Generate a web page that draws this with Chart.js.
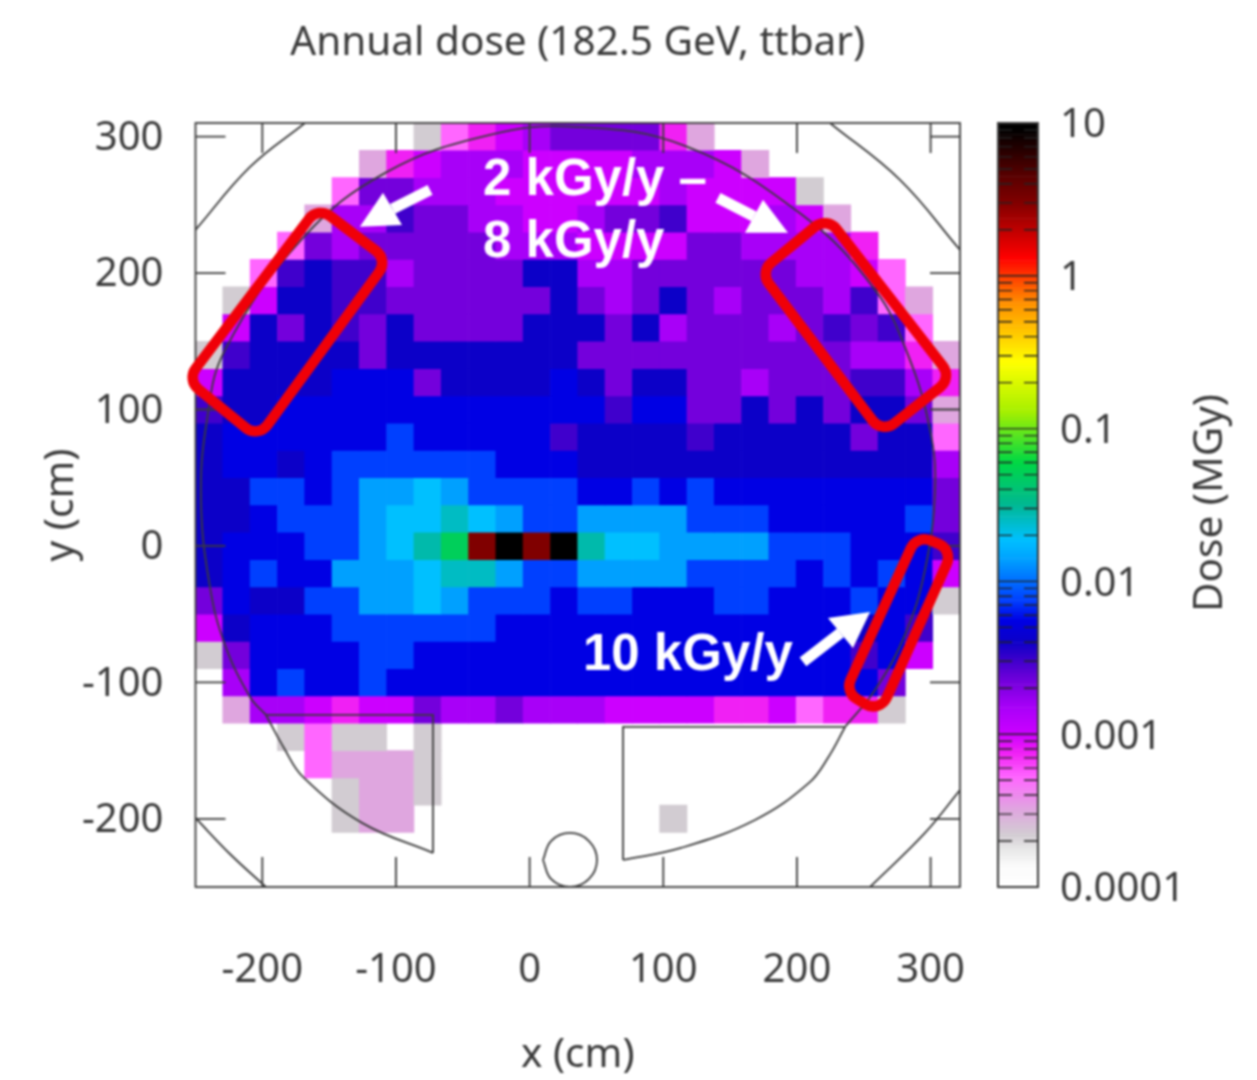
<!DOCTYPE html>
<html><head><meta charset="utf-8">
<script src="https://cdn.jsdelivr.net/npm/chart.js@4"></script>
<style>
html,body{margin:0;padding:0;background:#fff;width:1257px;height:1080px;overflow:hidden}
canvas{position:absolute;top:0;filter:blur(1px)}
#main{left:0}#bar{left:990px}
</style></head><body>
<canvas id="main" width="1257" height="1080"></canvas>
<canvas id="bar" width="267" height="1080"></canvas>
<script>
// dose per 20 cm cell, in units of 1e-4 MGy; row 0 = top of plot, column 0 = left of plot
const doseUnit = 1e-4;
const doseRows = [
[1,1,1,1,1,1,1,1,2.2,5.2,7.5,10,15,22,22,22,22,7.5,3.2,1,1,1,1,1,1,1,1,1],
[1,1,1,1,1,1,3.2,7.5,10,15,15,15,10,10,10,10,15,15,15,10,3.2,1,1,1,1,1,1,1],
[1,1,1,1,1,5.2,22,22,15,15,15,10,10,10,10,10,10,15,10,10,10,10,2.2,1,1,1,1,1],
[1,1,1,1,3.2,15,15,30,22,22,15,15,10,10,15,22,22,30,10,10,10,15,10,3.2,1,1,1,1],
[1,1,1,5.2,22,15,22,22,22,22,22,15,15,15,10,10,10,10,22,22,15,15,15,15,7.5,1,1,1],
[1,1,5.2,30,40,30,30,15,22,22,22,22,40,40,15,15,22,22,22,22,22,22,15,15,10,5.2,1,1],
[1,2.2,10,40,40,30,30,22,22,22,22,22,22,40,22,15,22,40,22,15,22,22,22,15,30,5.2,3.2,1],
[1,10,40,22,40,30,22,40,22,22,22,22,40,40,40,22,40,15,22,22,22,15,22,30,22,30,5.2,1],
[2.2,30,40,40,40,40,22,40,40,40,40,40,40,40,22,22,22,22,22,22,22,22,22,22,15,15,7.5,3.2],
[10,40,40,40,40,55,55,55,22,40,40,40,40,55,40,22,40,40,22,22,15,22,22,22,30,30,15,7.5],
[30,40,40,55,55,55,55,55,55,55,55,55,55,55,55,30,55,55,22,22,40,22,40,22,40,40,22,3.2],
[40,55,55,55,55,55,55,75,55,55,55,55,55,30,40,40,40,40,30,40,40,40,40,40,22,40,40,5.2],
[40,55,55,40,55,75,75,75,75,75,75,55,55,55,40,40,40,40,40,40,40,40,40,40,40,40,40,15],
[40,40,75,75,55,75,138,138,186,138,75,75,75,75,55,55,75,55,75,55,55,55,55,55,55,55,55,22],
[40,40,55,75,75,75,138,186,186,250,186,138,75,75,138,138,138,138,75,75,75,55,55,55,55,55,75,22],
[40,55,55,55,75,75,138,186,280,500,30000,90000,30000,90000,280,186,186,138,138,138,138,75,75,75,55,55,55,30],
[40,55,75,55,55,138,138,138,186,250,250,138,75,75,138,138,138,138,75,75,75,75,55,75,55,75,55,10],
[22,55,40,40,75,75,138,138,186,138,75,75,75,55,75,75,55,55,55,75,75,55,55,55,75,55,55,2.2],
[10,40,55,55,55,75,75,75,75,75,75,55,55,55,55,55,55,55,55,55,55,55,55,55,40,55,30,1],
[2.2,22,55,55,55,55,75,75,55,55,55,55,55,55,55,55,55,55,55,55,55,55,55,55,30,55,10,1],
[1,15,55,75,55,55,75,55,55,55,55,55,55,55,55,55,55,55,55,55,55,55,55,55,55,22,1,1],
[1,3.2,15,15,10,7.5,10,10,22,15,15,22,15,15,15,10,10,10,10,7.5,7.5,10,5.2,7.5,7.5,2.2,1,1],
[1,1,1,2.2,5.2,2.2,2.2,1,2.2,1,1,1,1,1,1,1,1,1,1,1,1,1,1,1,1,1,1,1],
[1,1,1,1,5.2,3.2,3.2,3.2,2.2,1,1,1,1,1,1,1,1,1,1,1,1,1,1,1,1,1,1,1],
[1,1,1,1,1,2.2,3.2,3.2,2.2,1,1,1,1,1,1,1,1,1,1,1,1,1,1,1,1,1,1,1],
[1,1,1,1,1,2.2,3.2,3.2,1,1,1,1,1,1,1,1,1,2.2,1,1,1,1,1,1,1,1,1,1],
[1,1,1,1,1,1,1,1,1,1,1,1,1,1,1,1,1,1,1,1,1,1,1,1,1,1,1,1],
[1,1,1,1,1,1,1,1,1,1,1,1,1,1,1,1,1,1,1,1,1,1,1,1,1,1,1,1]
];
const xTickValues = [-200,-100,0,100,200,300];
const yTickValues = [-200,-100,0,100,200,300];
const doseTickValues = [10,1,0.1,0.01,0.001,0.0001];
const yTopEdge = 310, cellSize = 20;

// detector outlines, in cm
const innerArc = [[-197.3,-123.9],[-209.2,-110.7],[-227.9,-72.6],[-239.2,-30],[-245.9,33.7],[-241.4,92.4],[-227.9,143.7],[-169.6,225.8],[-106.7,274.2],[-29.7,301.3],[33.9,307.2],[116.2,293.2],[203.8,242.7],[258.4,187.7],[283.1,140],[299.6,85],[303.3,41],[295.8,-17.6],[280.8,-65.2],[258.4,-105.6],[236,-132.7]];
const leftSectorArc = [[-197.3,-123.9],[-183.8,-148.1],[-169.6,-169.3],[-125.4,-203],[-72.3,-225]];
const leftSectorEdge = [[-197.3,-123.9],[-72.3,-123.9],[-72.3,-225]];
const rightSectorArc = [[69.9,-230.2],[113.2,-221.4],[168.6,-200.9],[209,-173.7],[223.6,-154.7],[236,-132.7]];
const rightSectorEdge = [[69.9,-230.2],[69.9,-132.7],[236,-132.7]];
const smallCircle = [[10,-230.2],[16,-216.3],[30.2,-210.4],[44.4,-216.3],[50.4,-230.2],[44.4,-244.1],[30.2,-250],[16,-244.1],[10,-230.2]];
const outerTL = [[-168.1,310],[-209.2,277.8],[-250,231.7]];
const outerTR = [[224.7,310],[277.1,268.3],[322,217]];
const outerBL = [[-250,-199.4],[-224.2,-225.8],[-197.3,-250]];
const outerBR = [[254.7,-250],[295.8,-210.4],[322,-178.9]];
const outlines = [innerArc,leftSectorArc,leftSectorEdge,rightSectorArc,rightSectorEdge,smallCircle,outerTL,outerTR,outerBL,outerBR];
const curved = [innerArc,leftSectorArc,rightSectorArc,smallCircle,outerTL,outerTR,outerBL,outerBR];

// annotations, in cm
const redBoxes = [
 [[-158.3,248.5],[-106,209.7],[-203.2,79.2],[-256.4,121.7]],
 [[222.5,241.2],[316,123.2],[263.6,82.8],[172.4,200.9]],
 [[289.8,8.1],[316.8,-2.9],[262.1,-122.4],[236,-107]]
];
const arrows = [
 {tail:[-74.5,261],tip:[-127,233.9],h1:[-109.7,258.8],h2:[-95.5,235.3]},
 {tail:[140.9,255.1],tip:[193.3,229.5],h1:[174.6,253.7],h2:[161.1,229.5]},
 {tail:[204.5,-85],tip:[254.7,-48.4],h1:[223.2,-52.8],h2:[241.9,-74.8]}
];
const notes = [
 {text:'2 kGy/y –',at:[-34.9,257.3]},
 {text:'8 kGy/y',at:[-34.9,211.9]},
 {text:'10 kGy/y',at:[39.9,-90.9]}
];

// colour palette: [dose in 1e-4 MGy, colour]
const palette = [
 [1,'#ffffff'],[1.35,'#fbfbfb'],[1.75,'#e8e8e8'],[2.2,'#d2ccd2'],[3.2,'#dfa6df'],[5.2,'#ff66ff'],[7.5,'#f020f4'],
 [10,'#cc00ff'],[15,'#a800f8'],[22,'#7400dc'],[30,'#4000cc'],[40,'#0c00c8'],[55,'#0000e4'],[75,'#0040ff'],
 [138,'#00a0ff'],[186,'#00c0ff'],[320,'#00b890'],[600,'#00d844'],[1300,'#a8f000'],[2700,'#ffff00'],
 [6600,'#ff9000'],[13000,'#ff0000'],[30000,'#800000'],[45000,'#580000'],[90000,'#000000'],[100000,'#000000']
];
function hex(c){return [1,3,5].map(i=>parseInt(c.substr(i,2),16));}
function colourOf(v){
 if(v<=palette[0][0]) return palette[0][1];
 for(let i=1;i<palette.length;i++){
  if(v<=palette[i][0]){
   const t=(Math.log(v)-Math.log(palette[i-1][0]))/(Math.log(palette[i][0])-Math.log(palette[i-1][0]));
   const a=hex(palette[i-1][1]),b=hex(palette[i][1]);
   return 'rgb('+a.map((u,k)=>Math.round(u+(b[k]-u)*t)).join(',')+')';
  }
 }
 return palette[palette.length-1][1];
}
const INK='#3a3a3a', FONT='"Noto Sans"';

const columns = doseRows[0].map((_,c)=>String(c));
const cellSets = doseRows.map((row,r)=>({
  type:'bar', order:5, xAxisID:'x', yAxisID:'y', grouped:false,
  barPercentage:1, categoryPercentage:1, borderWidth:0,
  data: row.map(v=> v>1 ? [yTopEdge-(r+1)*cellSize, yTopEdge-r*cellSize] : null),
  backgroundColor: row.map(colourOf)
}));
const lineSets = outlines.map(o=>({
  type:'scatter', order:1, xAxisID:'xv', yAxisID:'y', showLine:true, pointRadius:0,
  borderColor:INK, borderWidth:1.8, tension: curved.includes(o)?0.4:0,
  data:o.map(p=>({x:p[0],y:p[1]}))
}));

const frame = {
 id:'frame',
 afterDatasetsDraw(ch){
  const c=ch.ctx,a=ch.chartArea,X=ch.scales.xv,Y=ch.scales.y,T=30;
  const px=p=>[X.getPixelForValue(p[0]),Y.getPixelForValue(p[1])];
  c.save();
  c.strokeStyle=INK;c.lineWidth=1.8;
  c.strokeRect(a.left,a.top,a.right-a.left,a.bottom-a.top);
  c.beginPath();
  xTickValues.forEach(v=>{const x=X.getPixelForValue(v);c.moveTo(x,a.bottom);c.lineTo(x,a.bottom-T);c.moveTo(x,a.top);c.lineTo(x,a.top+T);});
  yTickValues.forEach(v=>{const y=Y.getPixelForValue(v);c.moveTo(a.left,y);c.lineTo(a.left+T,y);c.moveTo(a.right,y);c.lineTo(a.right-T,y);});
  c.stroke();
  // red boxes
  c.strokeStyle='#f00008';c.lineWidth=10.5;c.lineJoin='round';
  redBoxes.forEach(b=>{
   const q=b.map(px),m=[(q[3][0]+q[0][0])/2,(q[3][1]+q[0][1])/2];
   c.beginPath();c.moveTo(m[0],m[1]);
   for(let i=0;i<4;i++){const n=q[(i+1)%4];c.arcTo(q[i][0],q[i][1],n[0],n[1],15);}
   c.closePath();c.stroke();
  });
  // arrows
  c.strokeStyle='#fff';c.fillStyle='#fff';c.lineWidth=11;c.lineCap='butt';
  arrows.forEach(r=>{
   const t=px(r.tail),p=px(r.tip),h=px(r.h1),k=px(r.h2);
   c.beginPath();c.moveTo(t[0],t[1]);c.lineTo((h[0]+k[0])/2,(h[1]+k[1])/2);c.stroke();
   c.beginPath();c.moveTo(p[0],p[1]);c.lineTo(h[0],h[1]);c.lineTo(k[0],k[1]);c.closePath();c.fill();
  });
  // notes
  c.font='bold 51px "Liberation Sans"';c.textBaseline='alphabetic';c.textAlign='left';
  notes.forEach(n=>{const a2=px(n.at);c.fillText(n.text,a2[0],a2[1]);});
  c.restore();
 }
};

new Chart(document.getElementById('main'),{
 type:'bar',
 data:{labels:columns,datasets:[...cellSets,...lineSets]},
 plugins:[frame],
 options:{
  responsive:false,animation:false,events:[],
  layout:{padding:{left:0,top:19,right:297,bottom:0}},
  plugins:{
   legend:{display:false},tooltip:{enabled:false},
   title:{display:true,fullSize:false,text:'Annual dose (182.5 GeV, ttbar)',color:INK,
     font:{family:FONT,size:40.5,weight:'normal',lineHeight:1.2},padding:{top:0,bottom:55.4}}
  },
  scales:{
   x:{type:'category',display:false,offset:true},
   xv:{type:'linear',position:'bottom',min:-250,max:322,offset:false,
     afterBuildTicks:s=>{s.ticks=xTickValues.map(v=>({value:v}));},
     afterFit:s=>{s.height=193;},
     grid:{display:false,drawTicks:false,offset:false},border:{display:false},
     ticks:{autoSkip:false,maxRotation:0,padding:60,color:INK,font:{family:FONT,size:40},callback:v=>String(v)},
     title:{display:true,text:'x (cm)',color:INK,font:{family:FONT,size:40.5,lineHeight:1.2},padding:{top:6,bottom:0}}
   },
   y:{type:'linear',position:'left',min:-250,max:310,
     afterBuildTicks:s=>{s.ticks=yTickValues.map(v=>({value:v}));},
     afterFit:s=>{s.width=195.5;},
     grid:{display:false,drawTicks:false},border:{display:false},
     ticks:{autoSkip:false,padding:32,labelOffset:2,color:INK,font:{family:FONT,size:40},callback:v=>String(v)},
     title:{display:true,text:'y (cm)',color:INK,font:{family:FONT,size:40.5,lineHeight:1.2},padding:{top:37,bottom:0}}
   }
  }
 }
});

// colour bar
const barEdges=[];
for(let i=0;i<=200;i++) barEdges.push(Math.pow(10,-4+i*0.025));
const barSets=barEdges.slice(0,-1).map((lo,i)=>({
  grouped:false,barPercentage:1,categoryPercentage:1,borderWidth:0,
  data:[[lo,barEdges[i+1]]],backgroundColor:colourOf(Math.sqrt(lo*barEdges[i+1])/doseUnit)
}));
const barFrame={
 id:'barFrame',
 afterDatasetsDraw(ch){
  const c=ch.ctx,a=ch.chartArea,Y=ch.scales.y;
  c.save();c.strokeStyle='#222';c.lineWidth=1.4;c.beginPath();
  for(let e=-4;e<1;e++){for(let m=1;m<10;m++){
    const y=Y.getPixelForValue(m*Math.pow(10,e));
    if(m===1){c.moveTo(a.left,y);c.lineTo(a.right,y);}
    else{c.moveTo(a.left,y);c.lineTo(a.left+14,y);c.moveTo(a.right,y);c.lineTo(a.right-14,y);}
  }}
  c.stroke();
  c.strokeStyle=INK;c.lineWidth=2;c.strokeRect(a.left,a.top,a.right-a.left,a.bottom-a.top);
  c.translate(220,503);c.rotate(-Math.PI/2);
  c.fillStyle=INK;c.font='40.5px '+FONT;c.textAlign='center';c.textBaseline='middle';
  c.fillText('Dose (MGy)',0,0);
  c.restore();
 }
};
new Chart(document.getElementById('bar'),{
 type:'bar',
 data:{labels:['Dose'],datasets:barSets},
 plugins:[barFrame],
 options:{
  responsive:false,animation:false,events:[],
  layout:{padding:{left:8,top:123,right:0,bottom:193}},
  plugins:{legend:{display:false},tooltip:{enabled:false}},
  scales:{
   x:{type:'category',display:false,offset:true},
   y:{type:'logarithmic',position:'right',min:1e-4,max:10,
     afterBuildTicks:s=>{s.ticks=doseTickValues.map(v=>({value:v}));},
     afterFit:s=>{s.width=219;},
     grid:{display:false,drawTicks:false},border:{display:false},
     ticks:{autoSkip:false,padding:22,labelOffset:3,color:INK,font:{family:FONT,size:40},callback:v=>String(v)}
   }
  }
 }
});
</script>
</body></html>
